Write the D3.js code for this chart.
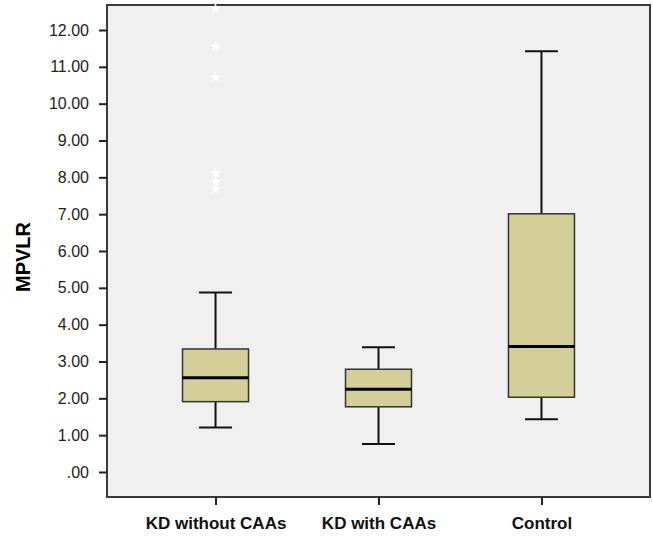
<!DOCTYPE html>
<html>
<head>
<meta charset="utf-8">
<script src="https://cdn.jsdelivr.net/npm/d3@7"></script>
<style>
  body { margin: 0; background: #fff; }
  svg text { font-family: "Liberation Sans", Arial, sans-serif; }
</style>
</head>
<body>
<div id="viz"></div>
<script>
// groups and box stats
var groups = ['KD without CAAs', 'KD with CAAs', 'Control'];
var whiskerLow = [1.21, 0.76, 1.43];
var q1 = [1.91, 1.77, 2.03];
var medians = [2.56, 2.25, 3.41];
var q3 = [3.34, 2.79, 7.01];
var whiskerHigh = [4.87, 3.39, 11.42];
// extreme values (stars) for first group
var outlierGroup = ['KD without CAAs', 'KD without CAAs', 'KD without CAAs', 'KD without CAAs', 'KD without CAAs', 'KD without CAAs'];
var outlierVals = [12.59, 11.55, 10.71, 8.11, 7.88, 7.68];
var yTicks = [0, 1, 2, 3, 4, 5, 6, 7, 8, 9, 10, 11, 12];

var W = 653, H = 539;
var plotL = 107, plotR = 650, plotT = 5, plotB = 497;

var svg = d3.select('#viz').append('svg')
  .attr('width', W).attr('height', H);

var y = d3.scaleLinear().domain([0, 12]).range([472, 30]);
var x = d3.scalePoint().domain(groups).range([plotL, plotR]).padding(0.666);

var boxes = groups.map(function(g, i) {
  return { g: g, lo: whiskerLow[i], q1: q1[i], med: medians[i], q3: q3[i], hi: whiskerHigh[i] };
});

// plot background + frame
svg.append('rect')
  .attr('x', plotL).attr('y', plotT)
  .attr('width', plotR - plotL).attr('height', plotB - plotT)
  .attr('fill', '#f0f0f0')
  .attr('stroke', '#3a3a3a').attr('stroke-width', 2);

// y axis
var yAxis = d3.axisLeft(y).tickValues(yTicks).tickSize(8).tickPadding(10)
  .tickFormat(function(d) { return d === 0 ? '.00' : d3.format('.2f')(d); });
var yg = svg.append('g').attr('transform', 'translate(' + plotL + ',0)').call(yAxis);
yg.select('.domain').remove();
yg.selectAll('.tick line').attr('stroke', '#222').attr('stroke-width', 2);
yg.selectAll('.tick text').attr('font-size', 16).attr('fill', '#222');

// x axis
var xAxis = d3.axisBottom(x).tickSize(8).tickPadding(12);
var xg = svg.append('g').attr('transform', 'translate(0,' + plotB + ')').call(xAxis);
xg.select('.domain').remove();
xg.selectAll('.tick line').attr('stroke', '#222').attr('stroke-width', 2);
xg.selectAll('.tick text').attr('font-size', 17).attr('font-weight', 'bold').attr('fill', '#111');

// y title
svg.append('text')
  .attr('transform', 'translate(30,257) rotate(-90)')
  .attr('text-anchor', 'middle')
  .attr('font-size', 20).attr('font-weight', 'bold')
  .text('MPVLR');

var bw = 66, cw = 33;
var bg = svg.selectAll('.box').data(boxes).enter().append('g').attr('class', 'box');

// whiskers
bg.append('line')
  .attr('x1', function(d) { return x(d.g); }).attr('x2', function(d) { return x(d.g); })
  .attr('y1', function(d) { return y(d.q3); }).attr('y2', function(d) { return y(d.hi); })
  .attr('stroke', '#111').attr('stroke-width', 2);
bg.append('line')
  .attr('x1', function(d) { return x(d.g); }).attr('x2', function(d) { return x(d.g); })
  .attr('y1', function(d) { return y(d.q1); }).attr('y2', function(d) { return y(d.lo); })
  .attr('stroke', '#111').attr('stroke-width', 2);
// caps
[ 'hi', 'lo' ].forEach(function(k) {
  bg.append('line')
    .attr('x1', function(d) { return x(d.g) - cw / 2; }).attr('x2', function(d) { return x(d.g) + cw / 2; })
    .attr('y1', function(d) { return y(d[k]); }).attr('y2', function(d) { return y(d[k]); })
    .attr('stroke', '#111').attr('stroke-width', 2);
});
// box
bg.append('rect')
  .attr('x', function(d) { return x(d.g) - bw / 2; })
  .attr('y', function(d) { return y(d.q3); })
  .attr('width', bw)
  .attr('height', function(d) { return y(d.q1) - y(d.q3); })
  .attr('fill', '#d4cf98').attr('stroke', '#333').attr('stroke-width', 1.5);
// median
bg.append('line')
  .attr('x1', function(d) { return x(d.g) - bw / 2; }).attr('x2', function(d) { return x(d.g) + bw / 2; })
  .attr('y1', function(d) { return y(d.med); }).attr('y2', function(d) { return y(d.med); })
  .attr('stroke', '#000').attr('stroke-width', 3);

// outlier stars
var star = d3.symbol().type(d3.symbolStar).size(40);
svg.selectAll('.star').data(outlierVals).enter().append('path')
  .attr('class', 'star')
  .attr('transform', function(d, i) { return 'translate(' + x(outlierGroup[i]) + ',' + y(d) + ')'; })
  .attr('d', star)
  .attr('fill', '#ffffff');
</script>
</body>
</html>
